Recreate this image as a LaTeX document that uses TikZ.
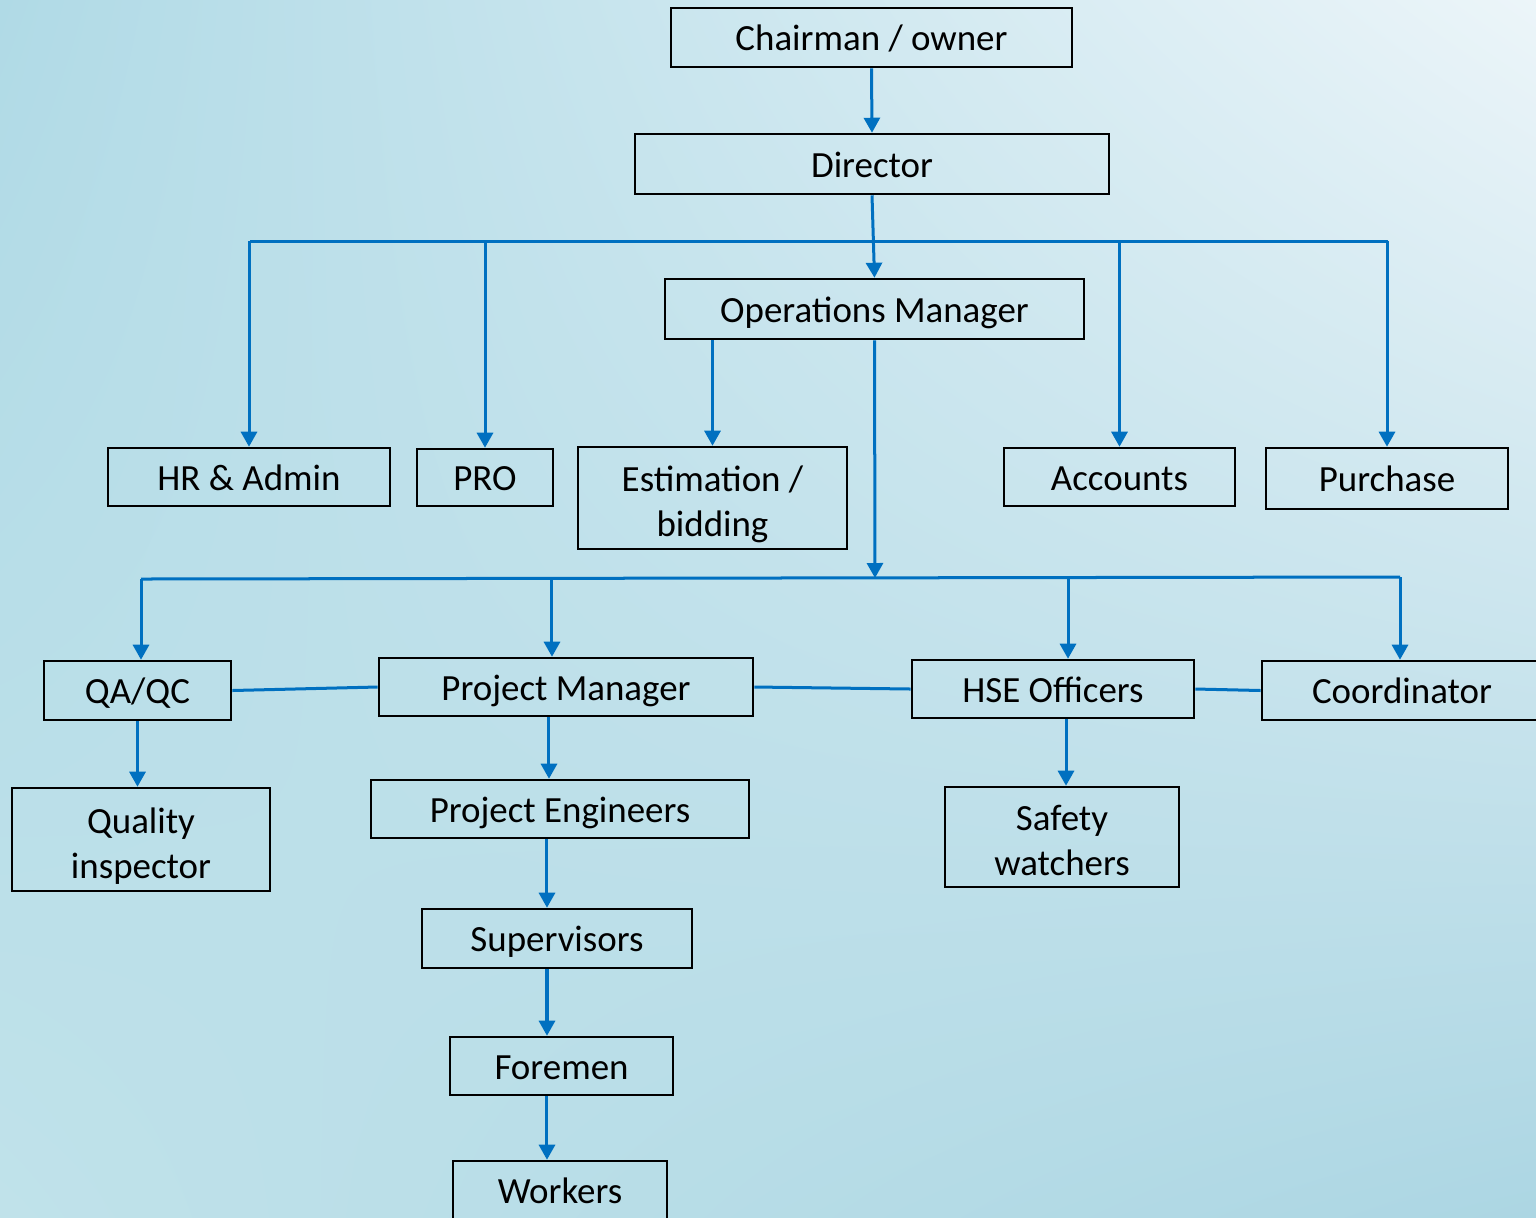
\documentclass[tikz,border=0pt]{standalone}
\usepackage{fontspec}
\setmainfont{Carlito}
\usepackage{xcolor}
\usetikzlibrary{arrows.meta, shadings}

\definecolor{linkblue}{RGB}{0,112,192}
\definecolor{bgTL}{RGB}{176,218,230}
\definecolor{bgTR}{RGB}{236,245,249}
\definecolor{bgBL}{RGB}{192,226,234}
\definecolor{bgBR}{RGB}{172,214,227}

\tikzset{
  box/.style={draw=black, line width=0.25mm, inner sep=0pt, align=center,
              font=\fontsize{10.5}{12.8}\selectfont,
              text height=0.8em, text depth=0.05em},
  tallbox/.style={box, text height=22pt, text depth=0pt},
  link/.style={draw=linkblue, line width=0.3mm},
  arr/.style={link, -{Triangle[width=0.16cm, length=0.15cm]}}
}

\begin{document}
\begin{tikzpicture}[x=0.01cm, y=-0.01cm]
  % Background
  \useasboundingbox (0,0) rectangle (1536,1217);
  \shade[upper left=bgTL, upper right=bgTR, lower left=bgBL, lower right=bgBR]
        (0,0) rectangle (1536,1217);

  % Top of the tree
  \node[box, minimum width=4.01cm, minimum height=0.59cm] (chair) at (871.5, 37.5) {Chairman / owner};
  \node[box, minimum width=4.74cm, minimum height=0.60cm] (dir)   at (872, 164)    {Director};
  \node[box, minimum width=4.19cm, minimum height=0.60cm] (om)    at (874.5, 309)  {Operations Manager};

  % Departments
  \node[box, minimum width=2.82cm, minimum height=0.58cm] (hr)  at (249, 477)    {HR \& Admin};
  \node[box, minimum width=1.36cm, minimum height=0.57cm] (pro) at (485, 477.5)  {PRO};
  \node[tallbox, minimum width=2.69cm, minimum height=1.02cm] (est) at (712.5, 498) {Estimation /\\bidding};
  \node[box, minimum width=2.31cm, minimum height=0.58cm] (acc) at (1119.5, 477) {Accounts};
  \node[box, minimum width=2.42cm, minimum height=0.61cm] (pur) at (1387, 478.5) {Purchase};

  % Site level
  \node[box, minimum width=1.87cm, minimum height=0.59cm] (qa)    at (137.5, 690.5) {QA/QC};
  \node[box, minimum width=3.74cm, minimum height=0.58cm] (pm)    at (566, 687)     {Project Manager};
  \node[box, minimum width=2.82cm, minimum height=0.58cm] (hse)   at (1053, 689)    {HSE Officers};
  \node[box, minimum width=2.80cm, minimum height=0.59cm] (coord) at (1402, 690.5)  {Coordinator};

  \node[tallbox, minimum width=2.58cm, minimum height=1.03cm] (qi) at (141, 839.5) {Quality\\inspector};
  \node[box, minimum width=3.78cm, minimum height=0.58cm] (pe)   at (560, 809)    {Project Engineers};
  \node[tallbox, minimum width=2.34cm, minimum height=1.00cm] (sw) at (1062, 837)  {Safety\\watchers};
  \node[box, minimum width=2.70cm, minimum height=0.59cm] (sup)  at (557, 938.5)  {Supervisors};
  \node[box, minimum width=2.23cm, minimum height=0.58cm] (fore) at (561.5, 1066) {Foremen};
  \node[box, minimum width=2.14cm, minimum height=0.58cm] (work) at (560, 1190)   {Workers};

  % Bus lines
  \coordinate (busA) at (250, 241);
  \coordinate (busB) at (1388, 241);
  \coordinate (busC) at (141, 579);
  \coordinate (busD) at (1400, 577);
  \coordinate (busE) at (875, 578);

  % Chairman -> Director -> Operations Manager
  \draw[arr] (chair.south) -- (dir.north);
  \draw[arr] (dir.south) -- (om.north);
  \draw[link] (busA) -- (busB);
  \draw[arr] (hr.north |- busA) -- (hr.north);
  \draw[arr] (pro.north |- busA) -- (pro.north);
  \draw[arr] (acc.north |- busA) -- (acc.north);
  \draw[arr] (pur.north |- busA) -- (pur.north);
  \draw[arr] (om.south -| est.north) -- (est.north);

  % Operations Manager -> site level
  \draw[arr] (om.south) -- (busE);
  \draw[link] (busC) -- (busD);
  \draw[arr] (busC) -- (busC |- qa.north);
  \draw[arr] ([xshift=-0.14cm]pm.north |- busE) -- ([xshift=-0.14cm]pm.north);
  \draw[arr] ([xshift=0.15cm]hse.north |- busE) -- ([xshift=0.15cm]hse.north);
  \draw[arr] (busD) -- (busD |- coord.north);

  % Side links
  \draw[link] (qa.east) -- (pm.west);
  \draw[link] (pm.east) -- (hse.west);
  \draw[link] (hse.east) -- (coord.west);

  % Chains
  \draw[arr] (qa.south) -- (qa.south |- qi.north);
  \draw[arr] ([xshift=-0.17cm]pm.south) -- ([xshift=-0.17cm]pm.south |- pe.north);
  \draw[arr] ([xshift=-0.13cm]pe.south) -- ([xshift=-0.13cm]pe.south |- sup.north);
  \draw[arr] ([xshift=-0.10cm]sup.south) -- ([xshift=-0.10cm]sup.south |- fore.north);
  \draw[arr] ([xshift=-0.145cm]fore.south) -- ([xshift=-0.145cm]fore.south |- work.north);
  \draw[arr] ([xshift=0.13cm]hse.south) -- ([xshift=0.13cm]hse.south |- sw.north);
\end{tikzpicture}
\end{document}
